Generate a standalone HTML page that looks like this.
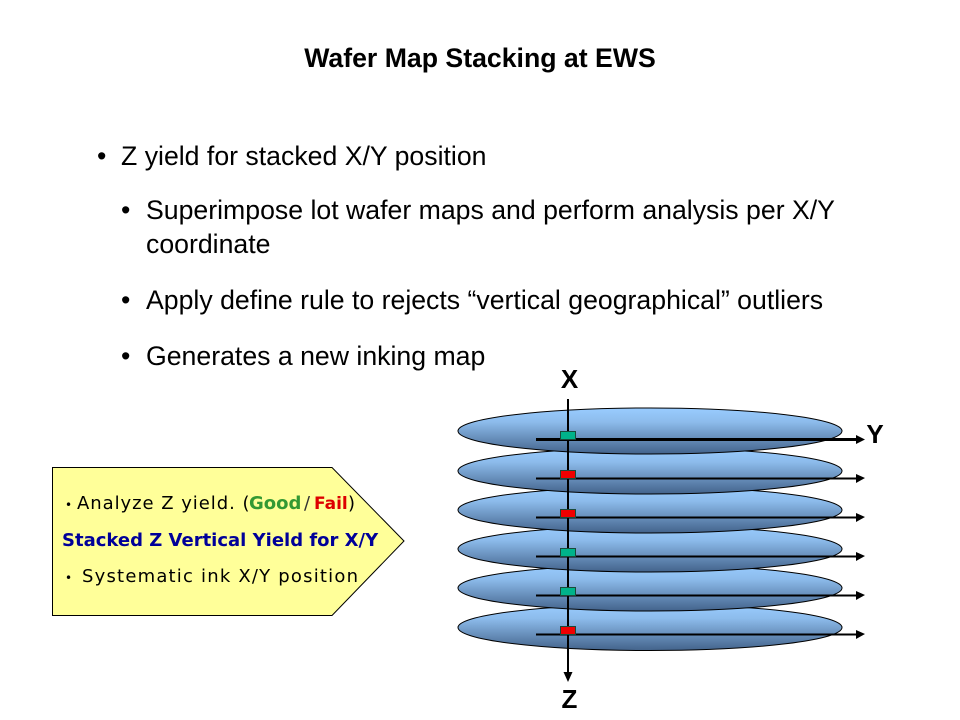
<!DOCTYPE html>
<html>
<head>
<meta charset="utf-8">
<style>
html,body{margin:0;padding:0;background:#fff;}
svg{display:block;}
text{font-family:"Liberation Sans",Arial,sans-serif;fill:#000;}
.b{font-size:26.67px;}
.s{font-family:"DejaVu Sans",sans-serif;font-size:18px;}
.r{letter-spacing:0.95px;}
</style>
</head>
<body>
<svg width="960" height="720" viewBox="0 0 960 720" xmlns="http://www.w3.org/2000/svg">
<defs>
<linearGradient id="g" x1="0" y1="0" x2="0" y2="1">
<stop offset="0" stop-color="#99ccff"/>
<stop offset="0.3" stop-color="#8dbcec"/>
<stop offset="1" stop-color="#43638b"/>
</linearGradient>
</defs>
<rect width="960" height="720" fill="#fff"/>
<text x="480" y="67" text-anchor="middle" font-size="26.67" font-weight="bold">Wafer Map Stacking at EWS</text>

<text class="b" x="97" y="165">•</text>
<text class="b" x="121" y="165">Z yield for stacked X/Y position</text>
<text class="b" x="121" y="219">•</text>
<text class="b" x="146" y="219">Superimpose lot wafer maps and perform analysis per X/Y</text>
<text class="b" x="146" y="253">coordinate</text>
<text class="b" x="121" y="309">•</text>
<text class="b" x="146" y="309">Apply define rule to rejects “vertical geographical” outliers</text>
<text class="b" x="121" y="365">•</text>
<text class="b" x="146" y="365">Generates a new inking map</text>

<polygon points="52.500,467.500 332,467.500 404,541 332,615.500 52.500,615.500" fill="#ffff99" stroke="#000" stroke-width="1"/>
<text class="s" y="509"><tspan x="65" style="font-size:12px">•</tspan><tspan x="77" class="r">Analyze Z yield. (</tspan><tspan x="249" font-weight="bold" style="fill:#339933">Good</tspan><tspan x="304" style="fill:#333">/</tspan><tspan x="314" font-weight="bold" style="fill:#dd0000;font-size:17px">Fail</tspan><tspan x="348">)</tspan></text>
<text class="s" x="62" y="546" font-weight="bold" style="fill:#000099">Stacked Z Vertical Yield for X/Y</text>
<text class="s" y="582"><tspan x="65" style="font-size:12px">•</tspan><tspan x="82" style="letter-spacing:1.2px">Systematic ink X/Y position</tspan></text>

<g stroke="#000" stroke-width="1" fill="url(#g)">
<ellipse cx="650" cy="627.500" rx="192" ry="23"/>
<ellipse cx="650" cy="588" rx="192" ry="23"/>
<ellipse cx="650" cy="549" rx="192" ry="23"/>
<ellipse cx="650" cy="510" rx="192" ry="23"/>
<ellipse cx="650" cy="471" rx="192" ry="23"/>
<ellipse cx="650" cy="431" rx="192" ry="23"/>
</g>

<line x1="568" y1="399" x2="568" y2="672" stroke="#000" stroke-width="2"/>
<polygon points="563.500,672 572.500,672 568,682" fill="#000"/>

<g stroke="#000" stroke-width="2">
<line x1="536" y1="439.500" x2="857" y2="439.500" stroke-width="3"/>
<line x1="536" y1="478.500" x2="857" y2="478.500"/>
<line x1="536" y1="517.500" x2="857" y2="517.500"/>
<line x1="536" y1="556.500" x2="857" y2="556.500"/>
<line x1="536" y1="595.500" x2="857" y2="595.500"/>
<line x1="536" y1="634.500" x2="857" y2="634.500"/>
</g>
<g fill="#000">
<polygon points="856,435 856,444 865,439.500"/>
<polygon points="856,474 856,483 865,478"/>
<polygon points="856,513 856,522 865,517"/>
<polygon points="856,552 856,561 865,556"/>
<polygon points="856,591 856,600 865,595"/>
<polygon points="856,630 856,639 865,634"/>
</g>

<g stroke="#1a4a3a" stroke-width="1">
<rect x="560.500" y="431.500" width="15" height="8" fill="#00b38a"/>
<rect x="560.500" y="470.500" width="15" height="8" fill="#f00000"/>
<rect x="560.500" y="509.500" width="15" height="8" fill="#f00000"/>
<rect x="560.500" y="548.500" width="15" height="8" fill="#00b38a"/>
<rect x="560.500" y="587.500" width="15" height="8" fill="#00b38a"/>
<rect x="560.500" y="626.500" width="15" height="8" fill="#f00000"/>
</g>

<text x="569.500" y="388" text-anchor="middle" font-size="26" font-weight="bold">X</text>
<text x="875" y="443" text-anchor="middle" font-size="26" font-weight="bold">Y</text>
<text x="569.500" y="708" text-anchor="middle" font-size="26" font-weight="bold">Z</text>
</svg>
</body>
</html>
